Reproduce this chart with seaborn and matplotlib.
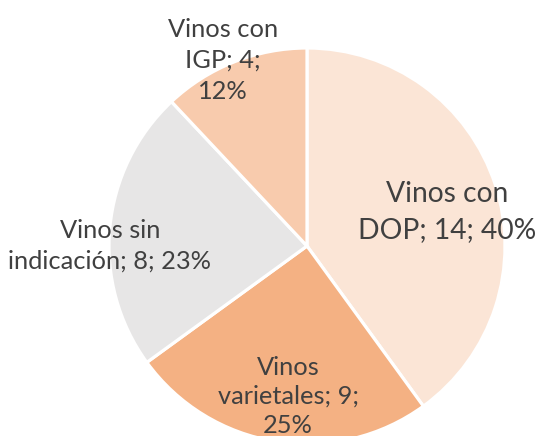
"""Pie chart of wine categories (Vinos con DOP, IGP, varietales, sin indicacion)."""
import matplotlib.pyplot as plt
import numpy as np
import seaborn as sns

categories = ["Vinos con DOP", "Vinos varietales", "Vinos sin indicación", "Vinos con IGP"]
counts = [14, 9, 8, 4]
shares = [40, 25, 23, 12]
label_texts = [
    "Vinos con\nDOP; 14; 40%",
    "Vinos\nvarietales; 9;\n25%",
    "Vinos sin\nindicación; 8; 23%",
    "Vinos con\nIGP; 4;\n12%",
]
colors = ["#FBE5D6", "#F4B183", "#E7E6E6", "#F8CBAD"]

sns.set_style("white")
plt.rcParams["font.family"] = ["Lato", "DejaVu Sans"]

fig = plt.figure(figsize=(5.37, 4.36), dpi=100)
ax = fig.add_axes([0, 0, 1, 1])

radius = 198
center = (307, 190)
wedges, _ = ax.pie(
    shares,
    colors=sns.color_palette(colors),
    startangle=90,
    counterclock=False,
    radius=radius,
    center=center,
    wedgeprops=dict(edgecolor="white", linewidth=2.3),
)
ax.set_xlim(0, 537)
ax.set_ylim(0, 436)
ax.set_aspect("equal")
ax.axis("off")

# label placement: fraction of radius and angle nudge from the slice middle
label_dist = [0.727, 0.765, 0.995, 1.03]
angle_nudge = [-4.4, 1.8, 5.3, 2.7]
font_sizes = [20.3, 18.3, 18.3, 18.3]
line_sp = [1.48, 1.32, 1.4, 1.42]
for wedge, text, dist, nudge, size, ls in zip(
    wedges, label_texts, label_dist, angle_nudge, font_sizes, line_sp
):
    theta = np.deg2rad((wedge.theta1 + wedge.theta2) / 2 + nudge)
    x = center[0] + dist * radius * np.cos(theta)
    y = center[1] + dist * radius * np.sin(theta)
    ax.text(x, y, text, ha="center", va="center", fontsize=size,
            color="#404040", linespacing=ls)

fig.savefig("out.png", dpi=100)
